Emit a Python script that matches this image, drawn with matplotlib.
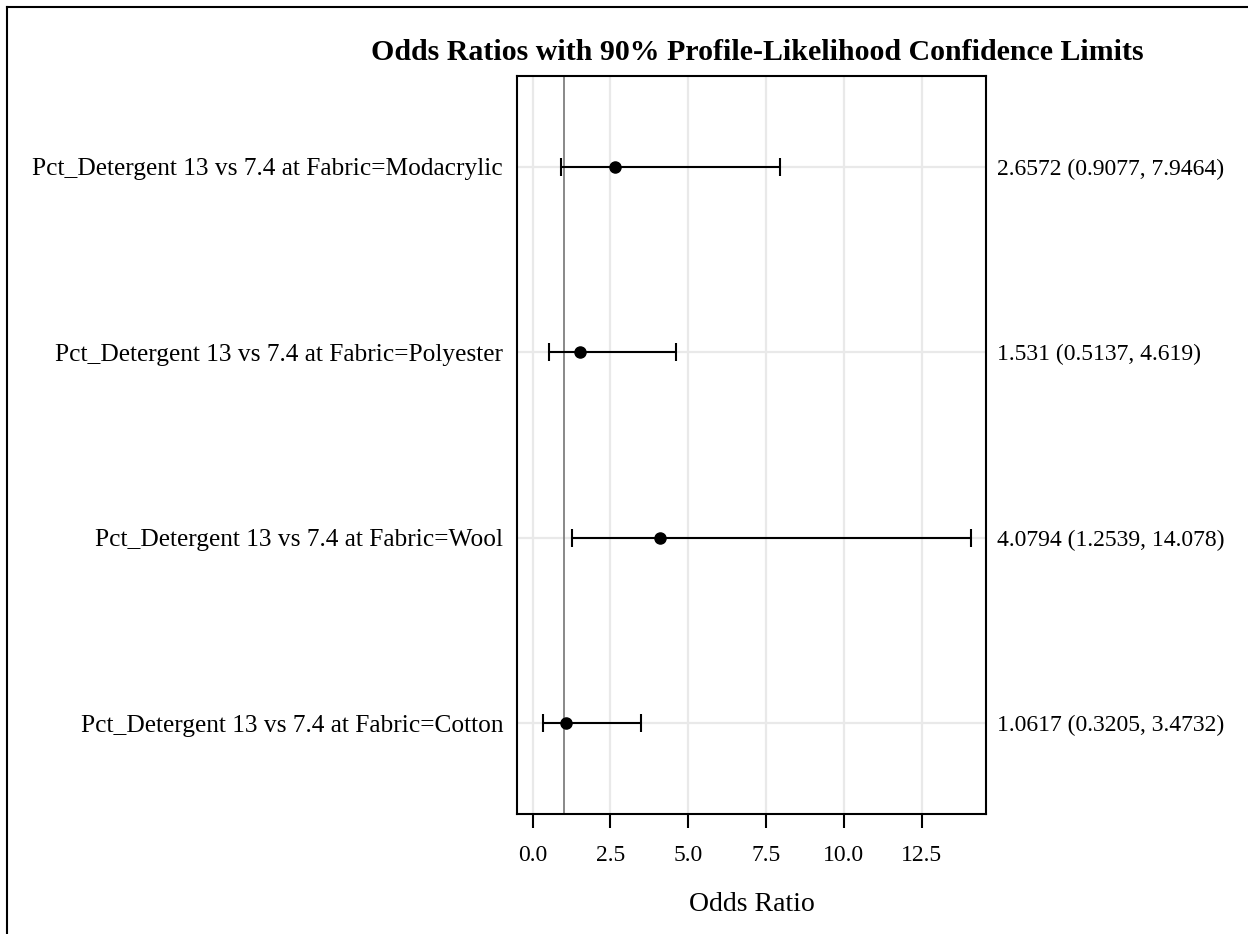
import matplotlib
matplotlib.use("Agg")
import matplotlib.pyplot as plt
from matplotlib.lines import Line2D

labels = ["Pct_Detergent 13 vs 7.4 at Fabric=Modacrylic",
          "Pct_Detergent 13 vs 7.4 at Fabric=Polyester",
          "Pct_Detergent 13 vs 7.4 at Fabric=Wool",
          "Pct_Detergent 13 vs 7.4 at Fabric=Cotton"]
odds = [2.6572, 1.531, 4.0794, 1.0617]
lower = [0.9077, 0.5137, 1.2539, 0.3205]
upper = [7.9464, 4.619, 14.078, 3.4732]
right_text = ["2.6572 (0.9077, 7.9464)", "1.531 (0.5137, 4.619)",
              "4.0794 (1.2539, 14.078)", "1.0617 (0.3205, 3.4732)"]
xticks = [0.0, 2.5, 5.0, 7.5, 10.0, 12.5]

plt.rcParams['font.family'] = ['Liberation Serif', 'DejaVu Serif']

W, H = 1248, 934
fig = plt.figure(figsize=(W/100, H/100), dpi=100)
ax = fig.add_axes([517/W, 1-814/H, (986-517)/W, (814-76)/H])

n = len(labels)
ys = [n-1-i for i in range(n)]

# grid
for xv in xticks:
    ax.axvline(xv, color='#e9e9e9', lw=1.6, zorder=0)
for y in ys:
    ax.axhline(y, color='#e9e9e9', lw=1.6, zorder=0)
ax.axvline(1, color='#7f7f7f', lw=1.3, zorder=1)

xerr = [[o-l for o, l in zip(odds, lower)], [u-o for o, u in zip(odds, upper)]]
ax.errorbar(odds, ys, xerr=xerr, fmt='o', color='black', ms=8, lw=1.5,
            capsize=6.8, capthick=1.5, zorder=3)

ax.set_xlim(-0.5, 14.57)
ax.set_ylim(-0.49, 3.49)
ax.set_xticks(xticks)
ax.set_xticklabels([f"{v:.1f}" for v in xticks], fontsize=17)
ax.set_yticks(ys)
ax.set_yticklabels(labels, fontsize=18.3)
ax.tick_params(axis='y', length=0, pad=10)
ax.tick_params(axis='x', length=10, width=1.5, pad=12)
for s in ax.spines.values():
    s.set_linewidth(1.5)

ax2 = ax.twinx()
ax2.set_ylim(ax.get_ylim())
ax2.set_yticks(ys)
ax2.set_yticklabels(right_text, fontsize=17)
ax2.tick_params(axis='y', length=0, pad=8)
for s in ax2.spines.values():
    s.set_visible(False)

ax.set_xlabel("Odds Ratio", fontsize=20, labelpad=19)
fig.text(757/W, 1-52/H, "Odds Ratios with 90% Profile-Likelihood Confidence Limits",
         ha='center', va='center', fontsize=21.5, fontweight='bold')

fig.add_artist(Line2D([7/W, 7/W], [0, 1-7/H], transform=fig.transFigure, color='black', lw=1.5))
fig.add_artist(Line2D([7/W, 1], [1-7/H, 1-7/H], transform=fig.transFigure, color='black', lw=1.5))

fig.savefig("out.png", dpi=100)
